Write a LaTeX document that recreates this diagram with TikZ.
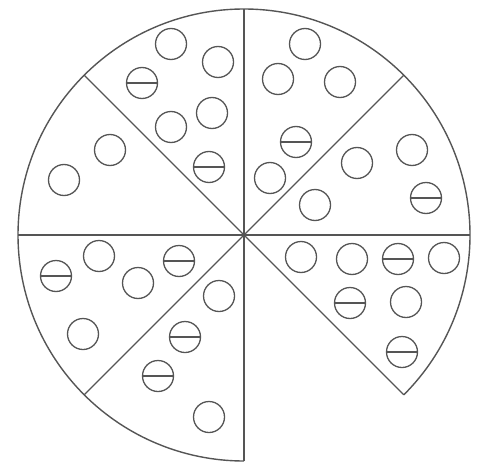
\documentclass[tikz,border=0pt]{standalone}
\usetikzlibrary{calc}
\definecolor{ink}{RGB}{85,85,85}
\tikzset{
  edge/.style={draw=ink, line width=1.4pt},
  dot/.style={circle, draw=ink, line width=1.3pt, minimum size=31pt, inner sep=0pt},
  bardot/.style={dot, path picture={\draw[ink, line width=1.2pt] (path picture bounding box.west) -- (path picture bounding box.east);}}
}
\begin{document}
\begin{tikzpicture}[x=1pt,y=1pt]
\useasboundingbox (0,0) rectangle (478,472);
\coordinate (O) at (244,237);
\foreach \a/\n in {90/pA,45/pB,0/pC,-45/pD,-90/pE,180/pF,135/pG,225/pH}
  \coordinate (\n) at ($(O)+(\a:226pt)$);
\draw[edge] (pD) arc[start angle=-45, end angle=270, radius=226pt];
\foreach \n in {pA,pB,pC,pD,pE,pF,pG,pH}
  \draw[edge] (O) -- (\n);
% upper-left sector
\node[dot] (a1) at (171,428) {};
\node[dot] (a2) at (218,410) {};
\node[bardot] (a3) at (142,389) {};
\node[dot] (a4) at (212,359) {};
\node[dot] (a5) at (171,345) {};
\node[bardot] (a6) at (209,305) {};
\node[dot] (a7) at (110,322) {};
\node[dot] (a8) at (64,292) {};
% upper-right
\node[dot] (b1) at (305,428) {};
\node[dot] (b2) at (278,393) {};
\node[dot] (b3) at (340,390) {};
\node[bardot] (b4) at (296,330) {};
\node[dot] (b5) at (270,294) {};
\node[dot] (b6) at (315,267) {};
\node[dot] (b7) at (357,309) {};
\node[dot] (b8) at (412,322) {};
\node[bardot] (b9) at (426,274) {};
% lower-left
\node[dot] (c1) at (99,216) {};
\node[bardot] (c2) at (56,196) {};
\node[dot] (c3) at (138,189) {};
\node[bardot] (c4) at (179,211) {};
\node[dot] (c5) at (219,176) {};
\node[dot] (c6) at (83,138) {};
\node[bardot] (c7) at (185,135) {};
\node[bardot] (c8) at (158,96) {};
\node[dot] (c9) at (209,55) {};
% lower-right
\node[dot] (d1) at (301,215) {};
\node[dot] (d2) at (352,213) {};
\node[bardot] (d3) at (398,213) {};
\node[dot] (d4) at (444,214) {};
\node[bardot] (d5) at (350,169) {};
\node[dot] (d6) at (406,170) {};
\node[bardot] (d7) at (402,120) {};
\end{tikzpicture}
\end{document}
